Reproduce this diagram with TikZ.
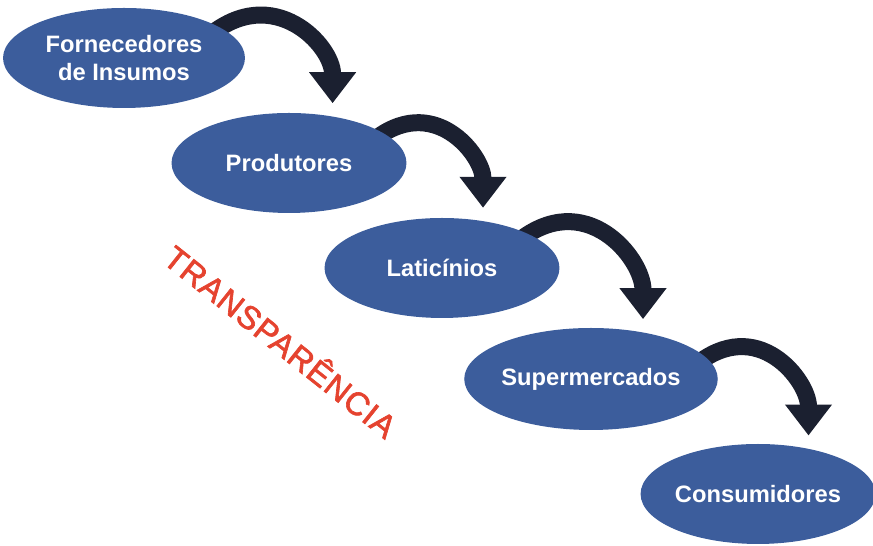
\documentclass[tikz,border=0pt]{standalone}
\usepackage{fontspec}
\setmainfont{Liberation Sans}
\usepackage{tikz}
\usetikzlibrary{shapes.geometric,arrows.meta,positioning,backgrounds}
\definecolor{azul}{HTML}{3C5D9C}
\definecolor{preto}{HTML}{1B2030}
\definecolor{vermelho}{HTML}{E5432F}

\begin{document}
\begin{tikzpicture}[x=0.02cm,y=0.02cm,
		etapa/.style={ellipse,fill=azul,minimum width=4.7cm,minimum height=2cm,inner sep=0pt,
			text=white,align=center,font=\bfseries\fontsize{13.5}{16}\selectfont},
		seta/.style={draw=preto,line width=0.34cm,-{Triangle[width=0.9cm,length=0.62cm]},
			shorten <=-0.3cm,shorten >=0.26cm}]
		\useasboundingbox (0,0) rectangle (873,546);

		% Ellipsen
		\node[etapa,minimum width=4.84cm] (forn) at (124,488) {Fornecedores\\de Insumos};
		\node[etapa] (prod) at (289,383) {Produtores};
		\node[etapa] (lati) at (442,278) {Laticínios};
		\node[etapa,minimum width=4.76cm,minimum height=2.04cm] (super) at (591,167) {Supermercados};
		\node[etapa,minimum width=4.52cm] (cons) at (758,52) {Consumidores};

		% Pfeile
		\begin{scope}[on background layer]
			\draw[seta] (forn.18) to[out=40,in=90,looseness=1.25] (prod.47);
			\draw[seta] (prod.18) to[out=40,in=90,looseness=1.25] (lati.49);
			\draw[seta] (lati.22) to[out=40,in=90,looseness=1.25] (super.42);
			\draw[seta] (super.11) to[out=40,in=90,looseness=1.25] (cons.42);
		\end{scope}

		% Text
		\node[text=vermelho,rotate=-38.5,font=\fontsize{18.5}{22}\selectfont\addfontfeatures{LetterSpace=3,FakeBold=2}] (transp) at (282,206) {TRANSPARÊNCIA};
	\end{tikzpicture}
\end{document}
